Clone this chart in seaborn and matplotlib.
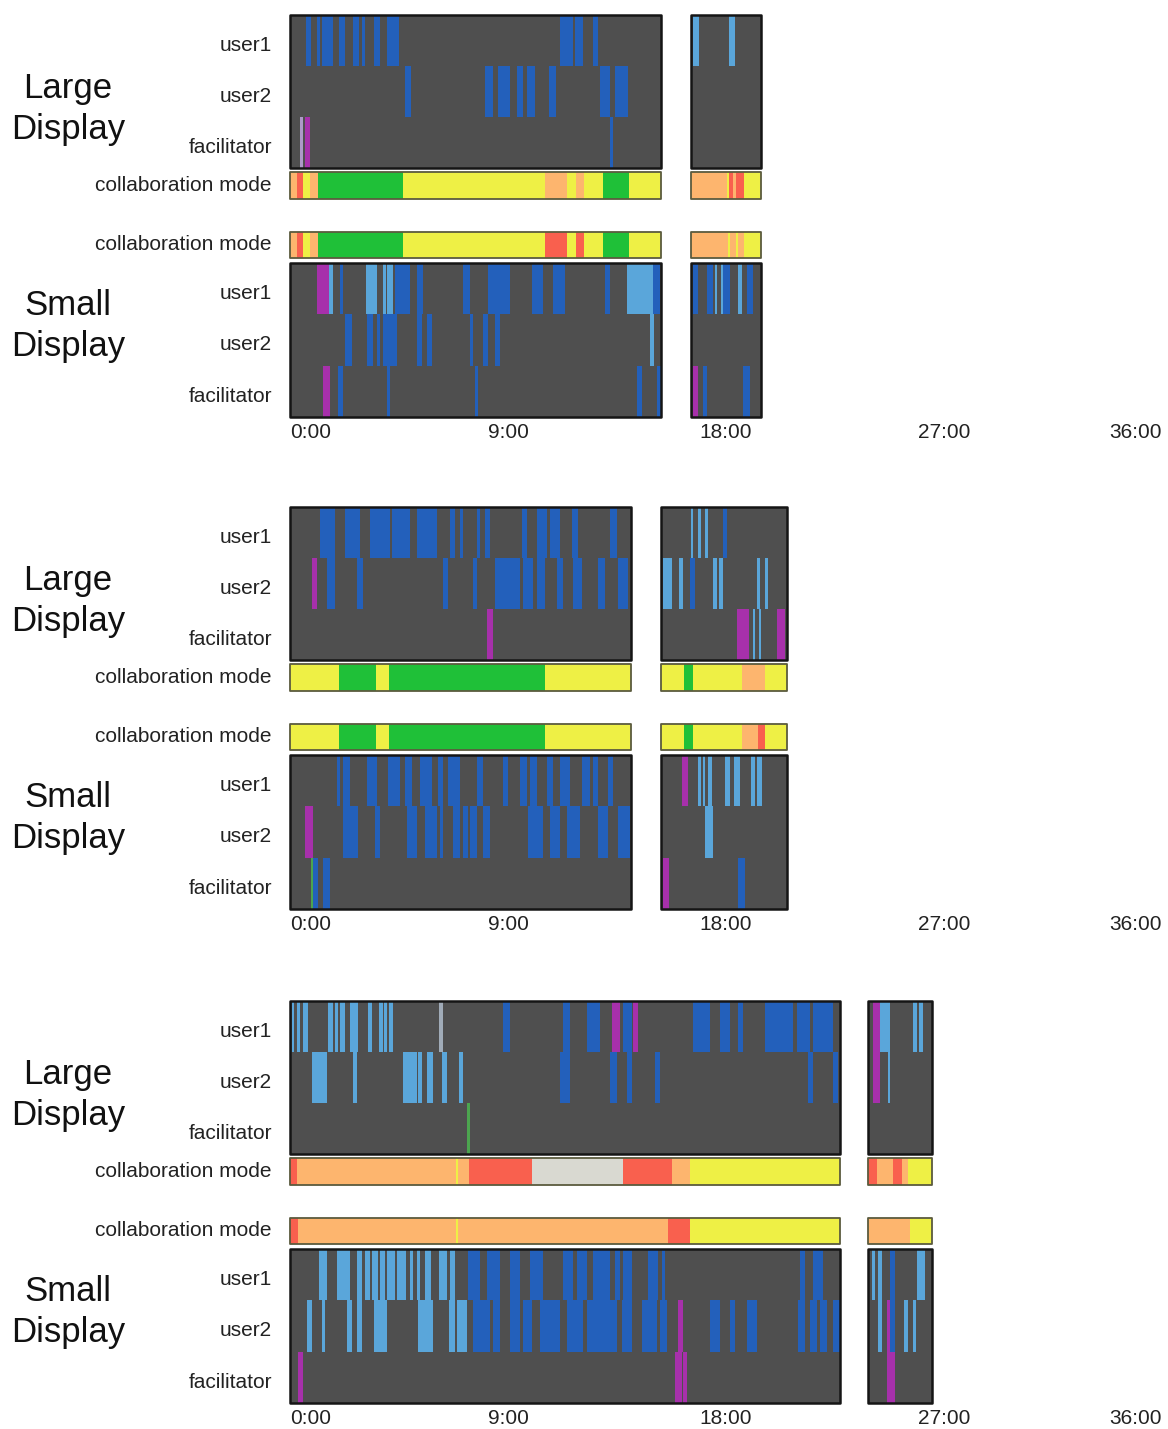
import matplotlib
matplotlib.use("Agg")
import matplotlib.pyplot as plt
import matplotlib.transforms as mtransforms
import seaborn as sns

# ---------------------------------------------------------------
# Session spans (minutes): main task and follow-up task per group
# ---------------------------------------------------------------
G1_SESSIONS = [(0.0, 15.32), (16.56, 19.45)]
G2_SESSIONS = [(0.0, 14.07), (15.30, 20.52)]
G3_SESSIONS = [(0.0, 22.70), (23.88, 26.50)]

TIME_TICKS = [0, 9, 18, 27, 36]
TIME_LABELS = ["0:00", "9:00", "18:00", "27:00", "36:00"]
ROW_LABELS = ["user1", "user2", "facilitator"]
MODE_LABEL = "collaboration mode"

# ---------------------------------------------------------------
# Collaboration-mode segments: (start, end, mode)
# Y = loosely coupled, G = tightly coupled, O = partial, R = conflict,
# N = no activity
# ---------------------------------------------------------------
G1_LARGE_MODE = [(0, 0.28, 'O'), (0.28, 0.55, 'R'), (0.55, 0.83, 'Y'), (0.83, 1.17, 'O'),
                 (1.17, 4.68, 'G'), (4.68, 10.53, 'Y'), (10.53, 11.45, 'O'), (11.45, 11.81, 'Y'),
                 (11.81, 12.14, 'O'), (12.14, 12.94, 'Y'), (12.94, 14.01, 'G'), (14.01, 15.32, 'Y'),
                 (16.56, 18.03, 'O'), (18.03, 18.14, 'Y'), (18.14, 18.28, 'R'), (18.28, 18.41, 'O'),
                 (18.41, 18.75, 'R'), (18.75, 19.45, 'Y')]
G1_SMALL_MODE = [(0, 0.28, 'O'), (0.28, 0.55, 'R'), (0.55, 0.83, 'Y'), (0.83, 1.17, 'O'),
                 (1.17, 4.68, 'G'), (4.68, 10.53, 'Y'), (10.53, 11.45, 'R'), (11.45, 11.81, 'Y'),
                 (11.81, 12.14, 'R'), (12.14, 12.94, 'Y'), (12.94, 14.01, 'G'), (14.01, 15.32, 'Y'),
                 (16.56, 18.07, 'O'), (18.07, 18.16, 'Y'), (18.16, 18.40, 'O'), (18.40, 18.50, 'Y'),
                 (18.50, 18.75, 'O'), (18.75, 19.45, 'Y')]
G2_LARGE_MODE = [(0, 2.04, 'Y'), (2.04, 3.54, 'G'), (3.54, 4.10, 'Y'), (4.10, 10.53, 'G'),
                 (10.53, 14.07, 'Y'), (15.30, 16.28, 'Y'), (16.28, 16.63, 'G'), (16.63, 18.65, 'Y'),
                 (18.65, 19.61, 'O'), (19.61, 20.52, 'Y')]
G2_SMALL_MODE = [(0, 2.04, 'Y'), (2.04, 3.54, 'G'), (3.54, 4.10, 'Y'), (4.10, 10.53, 'G'),
                 (10.53, 14.07, 'Y'), (15.30, 16.28, 'Y'), (16.28, 16.63, 'G'), (16.63, 18.65, 'Y'),
                 (18.65, 19.34, 'O'), (19.34, 19.61, 'R'), (19.61, 20.52, 'Y')]
G3_LARGE_MODE = [(0, 0.28, 'R'), (0.28, 6.85, 'O'), (6.85, 6.95, 'Y'), (6.95, 7.40, 'O'),
                 (7.40, 9.98, 'R'), (9.98, 13.76, 'N'), (13.76, 15.76, 'R'), (15.76, 16.52, 'O'),
                 (16.52, 22.70, 'Y'), (23.88, 24.25, 'R'), (24.25, 24.88, 'O'), (24.88, 25.26, 'R'),
                 (25.26, 25.53, 'O'), (25.53, 26.50, 'Y')]
G3_SMALL_MODE = [(0, 0.34, 'R'), (0.34, 6.85, 'O'), (6.85, 6.95, 'Y'), (6.95, 15.62, 'O'),
                 (15.62, 16.52, 'R'), (16.52, 22.70, 'Y'), (23.88, 25.60, 'O'), (25.60, 26.50, 'Y')]

# ---------------------------------------------------------------
# Interaction events: (start, end, kind)
# b = touch/drag, l = view change, m = annotation, g = tool switch,
# p = menu, s = selection
# ---------------------------------------------------------------
G1_LARGE_USER1 = [(0.66, 0.87, 'b'), (1.11, 1.24, 'b'), (1.32, 1.78, 'b'), (2.02, 2.27, 'b'),
                  (2.60, 2.85, 'b'), (2.97, 3.10, 'b'), (3.47, 3.72, 'b'), (4.00, 4.50, 'b'),
                  (11.15, 11.68, 'b'), (11.77, 12.10, 'b'), (12.50, 12.70, 'b'),
                  (16.63, 16.90, 'l'), (18.13, 18.37, 'l')]
G1_LARGE_USER2 = [(4.75, 5.00, 'b'), (8.05, 8.40, 'b'), (8.60, 9.10, 'b'), (9.37, 9.60, 'b'),
                  (9.80, 10.10, 'b'), (10.70, 11.00, 'b'), (12.80, 13.20, 'b'), (13.40, 13.95, 'b')]
G1_LARGE_FACIL = [(0.41, 0.54, 'p'), (0.62, 0.83, 'm'), (13.20, 13.35, 'b')]

G1_SMALL_USER1 = [(1.10, 1.61, 'm'), (1.61, 1.76, 'l'), (2.06, 2.20, 'b'), (3.14, 3.58, 'l'),
                  (3.85, 3.96, 'l'), (4.02, 4.27, 'l'), (4.34, 4.95, 'b'), (5.23, 5.50, 'b'),
                  (7.16, 7.43, 'b'), (8.19, 9.08, 'b'), (9.98, 10.46, 'b'), (10.87, 11.35, 'b'),
                  (13.00, 13.21, 'b'), (13.90, 15.00, 'l'), (15.00, 15.28, 'b'),
                  (16.65, 16.86, 'b'), (17.20, 17.48, 'b'), (17.55, 17.64, 'l'), (17.78, 17.89, 'l'),
                  (17.89, 18.17, 'b'), (18.51, 18.65, 'l'), (18.86, 19.13, 'b')]
G1_SMALL_USER2 = [(2.27, 2.55, 'b'), (3.18, 3.43, 'b'), (3.58, 3.72, 'b'), (3.85, 4.40, 'b'),
                  (5.23, 5.44, 'b'), (5.64, 5.85, 'b'), (7.43, 7.57, 'b'), (7.98, 8.19, 'b'),
                  (8.46, 8.67, 'b'), (14.86, 15.03, 'l')]
G1_SMALL_FACIL = [(1.38, 1.65, 'm'), (1.98, 2.20, 'b'), (3.99, 4.13, 'b'), (7.64, 7.78, 'b'),
                  (14.31, 14.52, 'b'), (15.14, 15.32, 'b'), (16.65, 16.86, 'm'),
                  (17.04, 17.20, 'b'), (18.72, 18.99, 'b')]

G2_LARGE_USER1 = [(1.24, 1.86, 'b'), (2.27, 2.89, 'b'), (3.30, 4.13, 'b'), (4.20, 4.95, 'b'),
                  (5.23, 6.06, 'b'), (6.61, 6.81, 'b'), (7.02, 7.16, 'b'), (7.71, 7.84, 'b'),
                  (8.05, 8.26, 'b'), (9.57, 9.77, 'b'), (10.19, 10.60, 'b'), (10.73, 11.15, 'b'),
                  (11.63, 11.90, 'b'), (13.21, 13.49, 'b'), (16.54, 16.65, 'l'), (16.86, 16.96, 'l'),
                  (17.13, 17.27, 'l'), (17.89, 18.03, 'b')]
G2_LARGE_USER2 = [(0.89, 1.10, 'm'), (1.51, 1.86, 'b'), (2.75, 3.03, 'b'), (6.33, 6.54, 'b'),
                  (7.57, 7.71, 'b'), (8.46, 9.50, 'b'), (9.63, 10.05, 'b'), (10.19, 10.53, 'b'),
                  (11.01, 11.29, 'b'), (11.70, 12.04, 'b'), (12.73, 13.01, 'b'), (13.56, 13.97, 'b'),
                  (15.41, 15.76, 'l'), (16.08, 16.21, 'l'), (16.52, 16.72, 'b'), (17.48, 17.62, 'l'),
                  (17.72, 17.89, 'l'), (19.27, 19.41, 'l'), (19.61, 19.75, 'l')]
G2_LARGE_FACIL = [(8.12, 8.39, 'm'), (18.47, 18.96, 'm'), (19.10, 19.19, 'l'), (19.35, 19.43, 'l'),
                  (20.09, 20.44, 'm')]

G2_SMALL_USER1 = [(1.93, 2.06, 'b'), (2.20, 2.48, 'b'), (3.17, 3.58, 'b'), (4.06, 4.54, 'b'),
                  (4.75, 5.02, 'b'), (5.37, 5.85, 'b'), (6.12, 6.33, 'b'), (6.54, 7.02, 'b'),
                  (7.71, 7.98, 'b'), (8.81, 9.01, 'b'), (9.50, 9.77, 'b'), (9.91, 10.19, 'b'),
                  (10.60, 10.87, 'b'), (11.15, 11.56, 'b'), (12.04, 12.39, 'b'), (12.52, 12.73, 'b'),
                  (13.14, 13.35, 'b'), (16.17, 16.45, 'm'), (16.86, 16.96, 'l'), (17.04, 17.13, 'l'),
                  (17.27, 17.41, 'l'), (17.96, 18.17, 'l'), (18.33, 18.58, 'l'), (19.02, 19.20, 'l'),
                  (19.27, 19.48, 'l')]
G2_SMALL_USER2 = [(0.62, 0.96, 'm'), (2.20, 2.82, 'b'), (3.51, 3.72, 'b'), (4.82, 5.23, 'b'),
                  (5.57, 6.06, 'b'), (6.19, 6.33, 'b'), (6.74, 7.02, 'b'), (7.16, 7.36, 'b'),
                  (7.43, 7.71, 'b'), (7.98, 8.26, 'b'), (9.84, 10.46, 'b'), (10.73, 11.15, 'b'),
                  (11.43, 11.97, 'b'), (12.73, 13.14, 'b'), (13.56, 14.04, 'b'), (17.13, 17.48, 'l')]
G2_SMALL_FACIL = [(0.87, 0.96, 'g'), (0.96, 1.17, 'b'), (1.38, 1.65, 'b'), (15.39, 15.66, 'm'),
                  (18.51, 18.79, 'b')]

G3_LARGE_USER1 = [(0.07, 0.17, 'l'), (0.28, 0.41, 'l'), (0.52, 0.76, 'l'), (1.58, 1.79, 'l'),
                  (1.86, 1.99, 'l'), (2.06, 2.27, 'l'), (2.48, 2.82, 'l'), (3.23, 3.37, 'l'),
                  (3.69, 3.83, 'l'), (3.88, 3.99, 'l'), (4.10, 4.24, 'l'), (6.17, 6.31, 's'),
                  (8.81, 9.08, 'b'), (11.29, 11.56, 'b'), (12.25, 12.80, 'b'), (13.28, 13.62, 'm'),
                  (13.76, 14.11, 'b'), (14.17, 14.38, 'm'), (16.65, 17.34, 'b'), (17.75, 18.17, 'b'),
                  (18.51, 18.72, 'b'), (19.61, 20.78, 'b'), (20.92, 21.47, 'b'), (21.61, 22.43, 'b'),
                  (24.06, 24.36, 'm'), (24.36, 24.77, 'l'), (25.74, 25.88, 'l'), (25.98, 26.15, 'l')]
G3_LARGE_USER2 = [(0.89, 1.51, 'l'), (2.62, 2.75, 'l'), (4.68, 5.23, 'l'), (5.30, 5.44, 'l'),
                  (5.64, 5.89, 'l'), (6.26, 6.47, 'l'), (6.99, 7.13, 'l'), (11.15, 11.56, 'b'),
                  (13.21, 13.49, 'b'), (13.90, 14.11, 'b'), (15.07, 15.28, 'b'), (21.40, 21.61, 'b'),
                  (22.43, 22.64, 'b'), (24.06, 24.36, 'm'), (24.67, 24.77, 'l')]
G3_LARGE_FACIL = [(7.29, 7.43, 'g')]

G3_SMALL_USER1 = [(1.21, 1.51, 'l'), (1.93, 2.48, 'l'), (2.78, 2.96, 'l'), (3.10, 3.30, 'l'),
                  (3.37, 3.65, 'l'), (3.72, 3.92, 'l'), (4.02, 4.34, 'l'), (4.41, 4.79, 'l'),
                  (4.95, 5.09, 'l'), (5.23, 5.37, 'l'), (5.57, 5.81, 'l'), (6.17, 6.47, 'l'),
                  (6.61, 6.81, 'l'), (7.36, 7.84, 'b'), (8.12, 8.67, 'b'), (9.08, 9.50, 'b'),
                  (9.91, 10.46, 'b'), (11.29, 11.70, 'b'), (11.84, 12.25, 'b'), (12.52, 13.21, 'b'),
                  (13.42, 13.62, 'b'), (13.76, 14.11, 'b'), (14.79, 15.21, 'b'), (15.35, 15.48, 'b'),
                  (21.06, 21.26, 'b'), (21.61, 22.02, 'b'), (24.02, 24.15, 'l'), (24.29, 24.43, 'l'),
                  (24.77, 24.98, 'b'), (25.88, 26.08, 'l'), (26.08, 26.22, 'l')]
G3_SMALL_USER2 = [(0.72, 0.89, 'l'), (1.31, 1.45, 'l'), (2.34, 2.55, 'l'), (2.78, 2.96, 'l'),
                  (3.47, 3.99, 'l'), (5.30, 5.92, 'l'), (6.58, 6.81, 'l'), (6.88, 7.29, 'l'),
                  (7.57, 8.26, 'b'), (8.40, 8.67, 'b'), (9.08, 9.50, 'b'), (9.63, 9.98, 'b'),
                  (10.32, 11.15, 'b'), (11.43, 12.11, 'b'), (12.25, 13.49, 'b'), (13.69, 14.11, 'b'),
                  (14.52, 15.14, 'b'), (15.28, 15.55, 'b'), (16.03, 16.24, 'm'), (17.34, 17.75, 'b'),
                  (18.17, 18.37, 'b'), (18.86, 19.27, 'b'), (20.99, 21.26, 'b'), (21.47, 21.75, 'b'),
                  (21.88, 22.16, 'b'), (22.43, 22.70, 'b'), (24.29, 24.43, 'l'), (24.63, 24.77, 'm'),
                  (24.77, 24.98, 'b'), (25.33, 25.53, 'l'), (25.74, 25.85, 'l')]
G3_SMALL_FACIL = [(0.34, 0.55, 'm'), (15.90, 16.17, 'm'), (16.24, 16.40, 'm'), (24.63, 24.98, 'm')]

# ---------------------------------------------------------------
# Styling
# ---------------------------------------------------------------
sns.set_theme(style="white")
plt.rcParams["font.family"] = ["Liberation Sans", "DejaVu Sans"]

PANEL_BG = "#4f4f4f"
PANEL_EDGE = "#151515"
MODE_EDGE = "#5b5b3e"
EVENT_COLORS = {'b': "#1f62c8", 'l': "#5cb0ea", 'm': "#b22db6", 'g': "#4caf50",
                'p': "#b9a2d6", 's': "#aab6c4"}
MODE_COLORS = {'Y': "#eef045", 'G': "#1fc038", 'O': "#fdb56e", 'R': "#f9604e",
               'N': "#d9d9d1"}
LABEL_COLOR = "#222222"

FIG_W, FIG_H = 1168, 1429
AX_LEFT, AX_RIGHT = 290, 1162
GROUP_OFFSETS = [0, 492, 986]
# strip extents (pixel rows) within one group
LARGE_Y = (15, 168)
LARGE_MODE_Y = (172, 199)
SMALL_MODE_Y = (232, 258)
SMALL_Y = (263, 417)

fig = plt.figure(figsize=(FIG_W / 100, FIG_H / 100), dpi=100)


def strip_axes(y0, y1):
    rect = [AX_LEFT / FIG_W, 1 - y1 / FIG_H, (AX_RIGHT - AX_LEFT) / FIG_W, (y1 - y0) / FIG_H]
    ax = fig.add_axes(rect)
    ax.set_xlim(0, 36)
    ax.set_facecolor("none")
    sns.despine(ax=ax, left=True, bottom=True)
    ax.tick_params(axis="both", length=0)
    ax.set_xticks([])
    return ax


def nudge_ylabels(ax, dy_px):
    # shift y tick labels vertically by a few pixels
    shift = mtransforms.ScaledTranslation(0, -dy_px / 100, fig.dpi_scale_trans)
    for lab in ax.get_yticklabels():
        lab.set_transform(lab.get_transform() + shift)


def spans(items):
    return [(s, e - s) for s, e in items]


def draw_block(ax, sessions, rows):
    ax.set_ylim(3, 0)
    ax.broken_barh(spans(sessions), (0, 3), facecolors=PANEL_BG, linewidth=0)
    for i, events in enumerate(rows):
        for kind, color in EVENT_COLORS.items():
            segs = [(s, e - s) for s, e, k in events if k == kind]
            if segs:
                ax.broken_barh(segs, (i, 1), facecolors=color, alpha=0.9, linewidth=0)
    frame = ax.broken_barh(spans(sessions), (0, 3), facecolors="none",
                           edgecolors=PANEL_EDGE, linewidth=1.8)
    frame.set_clip_on(False)
    ax.set_yticks([0.5, 1.5, 2.5])
    ax.set_yticklabels(ROW_LABELS)
    ax.tick_params(axis="y", pad=13, labelsize=15, labelcolor=LABEL_COLOR)
    nudge_ylabels(ax, 3)


def draw_mode(ax, sessions, segments):
    ax.set_ylim(1, 0)
    for mode, color in MODE_COLORS.items():
        segs = [(s, e - s) for s, e, m in segments if m == mode]
        if segs:
            ax.broken_barh(segs, (0, 1), facecolors=color, linewidth=0)
    frame = ax.broken_barh(spans(sessions), (0, 1), facecolors="none",
                           edgecolors=MODE_EDGE, linewidth=1.3)
    frame.set_clip_on(False)
    ax.set_yticks([0.5])
    ax.set_yticklabels([MODE_LABEL])
    ax.tick_params(axis="y", pad=13, labelsize=15, labelcolor=LABEL_COLOR)
    nudge_ylabels(ax, -2)


groups = [
    (G1_SESSIONS, [G1_LARGE_USER1, G1_LARGE_USER2, G1_LARGE_FACIL], G1_LARGE_MODE,
     G1_SMALL_MODE, [G1_SMALL_USER1, G1_SMALL_USER2, G1_SMALL_FACIL]),
    (G2_SESSIONS, [G2_LARGE_USER1, G2_LARGE_USER2, G2_LARGE_FACIL], G2_LARGE_MODE,
     G2_SMALL_MODE, [G2_SMALL_USER1, G2_SMALL_USER2, G2_SMALL_FACIL]),
    (G3_SESSIONS, [G3_LARGE_USER1, G3_LARGE_USER2, G3_LARGE_FACIL], G3_LARGE_MODE,
     G3_SMALL_MODE, [G3_SMALL_USER1, G3_SMALL_USER2, G3_SMALL_FACIL]),
]

for off, (sessions, large_rows, large_mode, small_mode, small_rows) in zip(GROUP_OFFSETS, groups):
    ax_l = strip_axes(LARGE_Y[0] + off, LARGE_Y[1] + off)
    draw_block(ax_l, sessions, large_rows)

    ax_lm = strip_axes(LARGE_MODE_Y[0] + off, LARGE_MODE_Y[1] + off)
    draw_mode(ax_lm, sessions, large_mode)

    ax_sm = strip_axes(SMALL_MODE_Y[0] + off, SMALL_MODE_Y[1] + off)
    draw_mode(ax_sm, sessions, small_mode)

    ax_s = strip_axes(SMALL_Y[0] + off, SMALL_Y[1] + off)
    draw_block(ax_s, sessions, small_rows)

    # shared time axis under the small-display strip
    ax_s.set_xticks(TIME_TICKS)
    ax_s.set_xticklabels(TIME_LABELS)
    ax_s.tick_params(axis="x", pad=4, labelsize=15, labelcolor=LABEL_COLOR)
    labels = ax_s.get_xticklabels()
    labels[0].set_horizontalalignment("left")
    labels[-1].set_horizontalalignment("right")

    # display headings
    yl = (88 + 130) / 2 + off
    ys = (305 + 347) / 2 + off
    fig.text(68 / FIG_W, 1 - yl / FIG_H, "Large\nDisplay", ha="center", va="center",
             fontsize=25, linespacing=1.3, color="#111111")
    fig.text(68 / FIG_W, 1 - ys / FIG_H, "Small\nDisplay", ha="center", va="center",
             fontsize=25, linespacing=1.3, color="#111111")

fig.savefig("out.png", dpi=100)
